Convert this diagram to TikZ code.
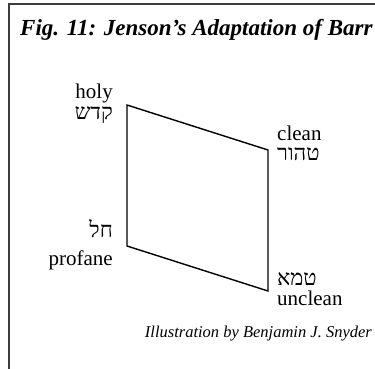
\documentclass[tikz,border=0pt]{standalone}
\usepackage{fontspec}
\setmainfont{Liberation Serif}
\newfontfamily\hebfont[Script=Hebrew]{Liberation Serif}
\TeXXeTstate=1
\usepackage{tikz}
\definecolor{framecolor}{HTML}{3C3C3C}
\tikzset{
  fig frame/.style={framecolor,line width=1.6pt},
  fig edge/.style={black,line width=1.4pt,line join=miter},
  fig title/.style={font=\fontsize{23}{26}\selectfont\bfseries\itshape,inner sep=0pt},
  fig label/.style={font=\fontsize{21}{24}\selectfont,inner sep=0pt},
  fig heb/.style={font=\fontsize{22}{25}\selectfont\hebfont,inner sep=0pt},
  fig credit/.style={font=\fontsize{16.5}{19}\selectfont\itshape,inner sep=0pt}
}

\begin{document}
\begin{tikzpicture}[x=1pt,y=-1pt]
  \useasboundingbox (0,0) rectangle (375,369);
  \clip (0,0) rectangle (375,369);
  \draw[fig frame] (9,372)--(9,4)--(380,4);
  \node[fig title,anchor=base west] (title) at (20,36) {Fig. 11: Jenson’s Adaptation of Barr};
  % corners of the quadrilateral
  \coordinate (holy) at (127,105);
  \coordinate (clean) at (268,150);
  \coordinate (unclean) at (268,291);
  \coordinate (profane) at (127,246);
  \draw[fig edge] (holy)--(clean)--(unclean)--(profane)--cycle;
  \node[fig label,anchor=base east] (holyen) at (113,99) {holy};
  \node[fig heb,anchor=base east] (holyhe) at (113,120) {\beginR קדש\endR};
  \node[fig label,anchor=base west] (cleanen) at (277,140) {clean};
  \node[fig heb,anchor=base west] (cleanhe) at (277,160) {\beginR טהור\endR};
  \node[fig heb,anchor=base east] (profanehe) at (113,237) {\beginR חל\endR};
  \node[fig label,anchor=base east] (profaneen) at (113,265) {profane};
  \node[fig heb,anchor=base west] (uncleanhe) at (277,285) {\beginR טמא\endR};
  \node[fig label,anchor=base west] (uncleanen) at (277,305) {unclean};
  \node[fig credit,anchor=base east] (credit) at (372,337) {Illustration by Benjamin J. Snyder};
\end{tikzpicture}
\end{document}
